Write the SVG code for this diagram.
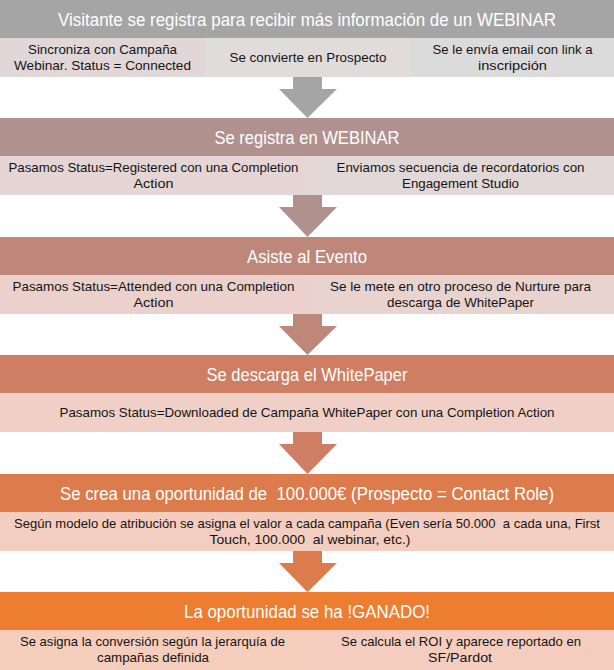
<svg xmlns="http://www.w3.org/2000/svg" width="614" height="670" viewBox="0 0 614 670">
<style>
.h{font-family:"Liberation Sans",Arial,sans-serif;font-size:17.5px;fill:#ffffff;text-anchor:middle;white-space:pre}
.s{font-family:"Liberation Sans",Arial,sans-serif;font-size:13px;fill:#151515;text-anchor:middle;white-space:pre}
</style>
<rect x="0" y="0" width="614" height="670" fill="#ffffff"/>
<g id="connectors">
<path d="M293,77 H322 V89 H337 L307.5,118 L279,89 H293 Z" fill="#a5a5a5"/>
<path d="M293,195 H322 V207 H337 L307.5,237 L279,207 H293 Z" fill="#b0918e"/>
<path d="M293,314 H322 V326 H337 L307.5,355 L279,326 H293 Z" fill="#be8779"/>
<path d="M293,432 H322 V444 H337 L307.5,474 L279,444 H293 Z" fill="#cd7e63"/>
<path d="M293,551 H322 V563 H337 L307.5,592 L279,563 H293 Z" fill="#dc7b4b"/>
</g>
<g id="band1">
<g id="h1"><rect x="0" y="0" width="614" height="38" fill="#a5a5a5"/>
<text class="h" x="307" y="25.5" textLength="498" lengthAdjust="spacingAndGlyphs">Visitante se registra para recibir más información de un WEBINAR</text></g>
<g id="s1a"><rect x="0" y="38" width="205" height="39" fill="#e2d7d8"/>
<text class="s" x="102.5" y="54" textLength="149" lengthAdjust="spacingAndGlyphs">Sincroniza con Campaña</text>
<text class="s" x="102.5" y="70" textLength="177" lengthAdjust="spacingAndGlyphs">Webinar. Status = Connected</text></g>
<g id="s1b"><rect x="205" y="38" width="206" height="39" fill="#e0dcdb"/>
<text class="s" x="308" y="62" textLength="157" lengthAdjust="spacingAndGlyphs">Se convierte en Prospecto</text></g>
<g id="s1c"><rect x="411" y="38" width="203" height="39" fill="#dbdbdb"/>
<text class="s" x="512.5" y="54" textLength="160" lengthAdjust="spacingAndGlyphs">Se le envía email con link a</text>
<text class="s" x="512.5" y="70" textLength="69" lengthAdjust="spacingAndGlyphs">inscripción</text></g>
</g>
<g id="band2">
<g id="h2"><rect x="0" y="118" width="614" height="38" fill="#b0918e"/>
<text class="h" x="307" y="143.5" textLength="185" lengthAdjust="spacingAndGlyphs">Se registra en WEBINAR</text></g>
<g id="s2a"><rect x="0" y="156" width="307" height="39" fill="#e5d6d5"/>
<text class="s" x="153.5" y="172" textLength="290" lengthAdjust="spacingAndGlyphs">Pasamos Status=Registered con una Completion</text>
<text class="s" x="153.5" y="188" textLength="40" lengthAdjust="spacingAndGlyphs">Action</text></g>
<g id="s2b"><rect x="307" y="156" width="307" height="39" fill="#e2d8d7"/>
<text class="s" x="460.5" y="172" textLength="248" lengthAdjust="spacingAndGlyphs">Enviamos secuencia de recordatorios con</text>
<text class="s" x="460.5" y="188" textLength="117" lengthAdjust="spacingAndGlyphs">Engagement Studio</text></g>
</g>
<g id="band3">
<g id="h3"><rect x="0" y="237" width="614" height="38" fill="#be8779"/>
<text class="h" x="307" y="262.5" textLength="120" lengthAdjust="spacingAndGlyphs">Asiste al Evento</text></g>
<g id="s3a"><rect x="0" y="275" width="307" height="39" fill="#ebd0cb"/>
<text class="s" x="153.5" y="291" textLength="282" lengthAdjust="spacingAndGlyphs">Pasamos Status=Attended con una Completion</text>
<text class="s" x="153.5" y="307" textLength="40" lengthAdjust="spacingAndGlyphs">Action</text></g>
<g id="s3b"><rect x="307" y="275" width="307" height="39" fill="#e9d3ce"/>
<text class="s" x="460.5" y="291" textLength="261" lengthAdjust="spacingAndGlyphs">Se le mete en otro proceso de Nurture para</text>
<text class="s" x="460.5" y="307" textLength="147" lengthAdjust="spacingAndGlyphs">descarga de WhitePaper</text></g>
</g>
<g id="band4">
<g id="h4"><rect x="0" y="355" width="614" height="38" fill="#cd7e63"/>
<text class="h" x="307" y="380.5" textLength="201" lengthAdjust="spacingAndGlyphs">Se descarga el WhitePaper</text></g>
<g id="s4"><rect x="0" y="393" width="614" height="39" fill="#efcfc6"/>
<text class="s" x="307" y="417" textLength="495" lengthAdjust="spacingAndGlyphs">Pasamos Status=Downloaded de Campaña WhitePaper con una Completion Action</text></g>
</g>
<g id="band5">
<g id="h5"><rect x="0" y="474" width="614" height="38" fill="#dc7b4b"/>
<text class="h" x="307" y="499.5" textLength="494" lengthAdjust="spacingAndGlyphs">Se crea una oportunidad de  100.000€ (Prospecto = Contact Role)</text></g>
<g id="s5"><rect x="0" y="512" width="614" height="39" fill="#f3cdbf"/>
<text class="s" x="307" y="528" textLength="586" lengthAdjust="spacingAndGlyphs">Según modelo de atribución se asigna el valor a cada campaña (Even sería 50.000  a cada una, First</text>
<text class="s" x="310" y="544" textLength="201" lengthAdjust="spacingAndGlyphs">Touch, 100.000  al webinar, etc.)</text></g>
</g>
<g id="band6">
<g id="h6"><rect x="0" y="592" width="614" height="38" fill="#ed7d31"/>
<text class="h" x="307" y="617.5" textLength="246" lengthAdjust="spacingAndGlyphs">La oportunidad se ha !GANADO!</text></g>
<g id="s6a"><rect x="0" y="630" width="307" height="40" fill="#f5cdbc"/>
<text class="s" x="152.5" y="646" textLength="265" lengthAdjust="spacingAndGlyphs">Se asigna la conversión según la jerarquía de</text>
<text class="s" x="153" y="662" textLength="112" lengthAdjust="spacingAndGlyphs">campañas definida</text></g>
<g id="s6b"><rect x="307" y="630" width="307" height="40" fill="#f5cdbe"/>
<text class="s" x="461" y="646" textLength="240" lengthAdjust="spacingAndGlyphs">Se calcula el ROI y aparece reportado en</text>
<text class="s" x="460" y="662" textLength="64" lengthAdjust="spacingAndGlyphs">SF/Pardot</text></g>
</g>
</svg>
